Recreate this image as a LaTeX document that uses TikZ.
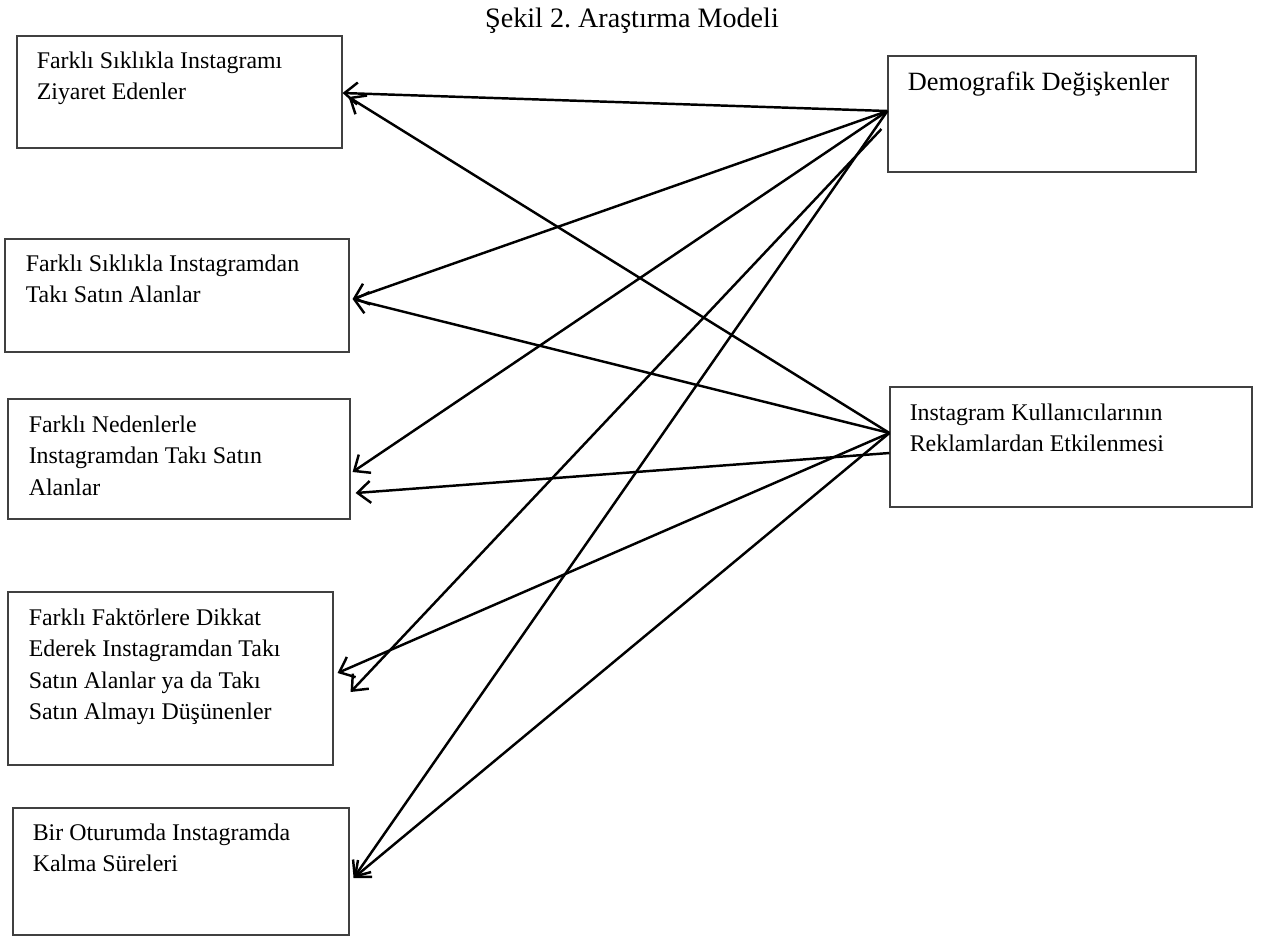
\documentclass[tikz,border=0pt]{standalone}
\usepackage{fontspec}
\setmainfont{Liberation Serif}
\usetikzlibrary{arrows.meta,calc}
\frenchspacing

\begin{document}
\begin{tikzpicture}[x=0.02cm,y=-0.02cm]
  \tikzstyle{box}=[rectangle,draw=black!75,line width=0.7pt,inner sep=0pt]
  \tikzstyle{txt}=[anchor=north west,align=left,inner sep=0pt,font=\fontsize{13.6}{17.9}\selectfont]
  \tikzstyle{edge}=[draw,line width=1.4pt,-{Straight Barb[length=2.6mm,width=4.4mm]}]
  \useasboundingbox (0,0) rectangle (1264,938);
  \node [font=\fontsize{16}{18}\selectfont] (title) at (632,21) {Şekil 2. Araştırma Modeli};
  % left column
  \node [box,minimum width=6.5cm,minimum height=2.24cm] (b1) at (179.5,92) {};
  \node [box,minimum width=6.88cm,minimum height=2.26cm] (b2) at (177,295.5) {};
  \node [box,minimum width=6.84cm,minimum height=2.4cm] (b3) at (179,459) {};
  \node [box,minimum width=6.5cm,minimum height=3.46cm] (b4) at (170.5,678.5) {};
  \node [box,minimum width=6.72cm,minimum height=2.54cm] (b5) at (181,871.5) {};
  % right column
  \node [box,minimum width=6.16cm,minimum height=2.32cm] (dem) at (1042,114) {};
  \node [box,minimum width=7.24cm,minimum height=2.4cm] (ins) at (1071,447) {};
  % texts
  \node [txt] (t1) at ($(b1.north west)+(20,16)$) {Farklı Sıklıkla Instagramı\\Ziyaret Edenler};
  \node [txt] (t2) at ($(b2.north west)+(21,16)$) {Farklı Sıklıkla Instagramdan\\Takı Satın Alanlar};
  \node [txt] (t3) at ($(b3.north west)+(21,17)$) {Farklı Nedenlerle\\Instagramdan Takı Satın\\Alanlar};
  \node [txt] (t4) at ($(b4.north west)+(21,17)$) {Farklı Faktörlere Dikkat\\Ederek Instagramdan Takı\\Satın Alanlar ya da Takı\\Satın Almayı Düşünenler};
  \node [txt] (t5) at ($(b5.north west)+(20,16)$) {Bir Oturumda Instagramda\\Kalma Süreleri};
  \node [txt,font=\fontsize{15}{18}\selectfont] (td) at ($(dem.north west)+(20,16)$) {Demografik Değişkenler};
  \node [txt] (ti) at ($(ins.north west)+(20,17)$) {Instagram Kullanıcılarının\\Reklamlardan Etkilenmesi};
  % arrows from Demografik Degiskenler
  \coordinate (d1) at ($(dem.west)+(0,-3)$);
  \coordinate (d2) at ($(dem.west)+(-6,15)$);
  \path[edge] (d1) -- ($(b1.east)+(0,1)$);
  \path[edge] (d1) -- ($(b2.east)+(3,3.5)$);
  \path[edge] (d1) -- ($(b3.east)+(2,13)$);
  \path[edge] (d2) -- ($(b4.east)+(17,13.5)$);
  \path[edge] (d1) -- ($(b5.east)+(4,6.5)$);
  % arrows from Instagram Kullanicilarinin ...
  \coordinate (i1) at ($(ins.west)+(0,-14)$);
  \coordinate (i2) at ($(ins.west)+(0,6)$);
  \path[edge] (i1) -- ($(b1.east)+(6,5)$);
  \path[edge] (i1) -- ($(b2.east)+(3,3.5)$);
  \path[edge] (i2) -- ($(b3.east)+(5,34)$);
  \path[edge] (i1) -- ($(b4.east)+(4,-5.5)$);
  \path[edge] (i1) -- ($(b5.east)+(4,6.5)$);
\end{tikzpicture}
\end{document}
